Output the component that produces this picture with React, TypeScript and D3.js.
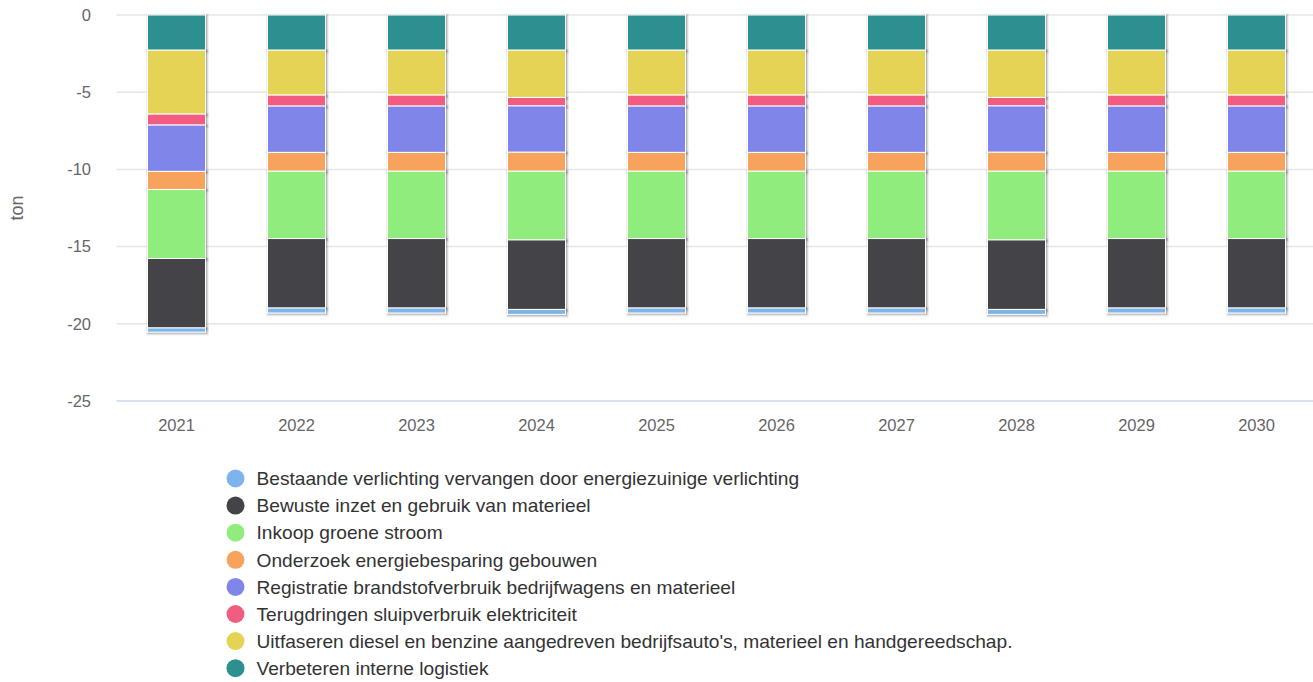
import React from "react";
import * as d3 from "d3";

const years = ["2021", "2022", "2023", "2024", "2025", "2026", "2027", "2028", "2029", "2030"];

// legend order (Highcharts series order)
const seriesNames = [
  "Bestaande verlichting vervangen door energiezuinige verlichting",
  "Bewuste inzet en gebruik van materieel",
  "Inkoop groene stroom",
  "Onderzoek energiebesparing gebouwen",
  "Registratie brandstofverbruik bedrijfwagens en materieel",
  "Terugdringen sluipverbruik elektriciteit",
  "Uitfaseren diesel en benzine aangedreven bedrijfsauto's, materieel en handgereedschap.",
  "Verbeteren interne logistiek",
];
const seriesColors = ["#7cb5ec", "#434348", "#90ed7d", "#f7a35c", "#8085e9", "#f15c80", "#e4d354", "#2b908f"];

const bestaande = [-0.27, -0.32, -0.32, -0.32, -0.32, -0.32, -0.32, -0.32, -0.32, -0.32];
const bewuste = [-4.5, -4.5, -4.5, -4.5, -4.5, -4.5, -4.5, -4.5, -4.5, -4.5];
const inkoop = [-4.47, -4.36, -4.36, -4.45, -4.36, -4.36, -4.36, -4.45, -4.36, -4.36];
const onderzoek = [-1.17, -1.22, -1.22, -1.23, -1.22, -1.22, -1.22, -1.23, -1.22, -1.22];
const registratie = [-3.0, -3.0, -3.0, -3.0, -3.0, -3.0, -3.0, -3.0, -3.0, -3.0];
const terugdringen = [-0.71, -0.71, -0.71, -0.55, -0.71, -0.71, -0.71, -0.55, -0.71, -0.71];
const uitfaseren = [-4.14, -2.91, -2.91, -3.06, -2.91, -2.91, -2.91, -3.06, -2.91, -2.91];
const verbeteren = [-2.28, -2.28, -2.28, -2.28, -2.28, -2.28, -2.28, -2.28, -2.28, -2.28];

const seriesValues = [bestaande, bewuste, inkoop, onderzoek, registratie, terugdringen, uitfaseren, verbeteren];

const yTicks = [0, -5, -10, -15, -20, -25];

const FONT = "'Liberation Sans', Arial, Helvetica, sans-serif";

export default function App() {
  const width = 1313;
  const height = 682;
  const plotLeft = 116.5;
  const plotRight = 1316.5;
  const plotTop = 15;
  const plotBottom = 401;

  const rows = years.map((y, i) => {
    const r: any = { year: y };
    seriesNames.forEach((n, s) => (r[n] = seriesValues[s][i]));
    return r;
  });

  // last series sits next to zero
  const keys = [...seriesNames].reverse();
  const stacked = d3.stack().keys(keys).offset(d3.stackOffsetDiverging)(rows);

  const x = d3.scaleBand().domain(years).range([plotLeft, plotRight]).padding(0);
  const y = d3.scaleLinear().domain([0, -25]).range([plotTop, plotBottom]);

  const barW = 58;
  const colorOf = (name: string) => seriesColors[seriesNames.indexOf(name)];

  return (
    <svg width={width} height={height} style={{ position: "absolute", left: 0, top: 0, fontFamily: FONT }}>
      {yTicks.map((t) => (
        <g key={t}>
          {t !== -25 && (
            <line x1={plotLeft} x2={width} y1={y(t)} y2={y(t)} stroke="#e6e6e6" strokeWidth={1.5} />
          )}
          <text x={91} y={y(t)} dy="0.35em" textAnchor="end" fill="#666" fontSize={16.5}>
            {t}
          </text>
        </g>
      ))}
      <line x1={plotLeft} x2={width} y1={plotBottom} y2={plotBottom} stroke="#ccd6eb" strokeWidth={1.5} />
      <text
        transform={`translate(17, ${(plotTop + plotBottom) / 2}) rotate(-90)`}
        textAnchor="middle"
        dy="0.35em"
        fill="#666"
        fontSize={18}
      >
        ton
      </text>

      {/* shadows */}
      {stacked.map((layer) =>
        layer.map((d: any, i) => {
          const cx = (x(years[i]) as number) + x.bandwidth() / 2;
          const y0 = y(d[1]);
          const y1 = y(d[0]);
          return (
            <g key={`s-${layer.key}-${i}`} transform="translate(1,1)">
              <rect x={cx - barW / 2} y={y0} width={barW} height={y1 - y0} fill="none" stroke="#000" strokeOpacity={0.05} strokeWidth={5} />
              <rect x={cx - barW / 2} y={y0} width={barW} height={y1 - y0} fill="none" stroke="#000" strokeOpacity={0.1} strokeWidth={3} />
              <rect x={cx - barW / 2} y={y0} width={barW} height={y1 - y0} fill="none" stroke="#000" strokeOpacity={0.15} strokeWidth={1} />
            </g>
          );
        })
      )}
      {stacked.map((layer) =>
        layer.map((d: any, i) => {
          const cx = (x(years[i]) as number) + x.bandwidth() / 2;
          const y0 = y(d[1]);
          const y1 = y(d[0]);
          return (
            <rect
              key={`b-${layer.key}-${i}`}
              x={cx - barW / 2}
              y={y0}
              width={barW}
              height={y1 - y0}
              fill={colorOf(layer.key)}
              stroke="#fff"
              strokeWidth={1}
            />
          );
        })
      )}

      {years.map((yr) => (
        <text
          key={yr}
          x={(x(yr) as number) + x.bandwidth() / 2}
          y={425}
          dy="0.35em"
          textAnchor="middle"
          fill="#666"
          fontSize={16.5}
        >
          {yr}
        </text>
      ))}

      {seriesNames.map((n, i) => (
        <g key={n} transform={`translate(235.5, ${478.5 + i * 27.1})`}>
          <circle r={9} fill={seriesColors[i]} />
          <text x={21} dy="0.35em" fill="#333" fontSize={19.15}>
            {n}
          </text>
        </g>
      ))}
    </svg>
  );
}
